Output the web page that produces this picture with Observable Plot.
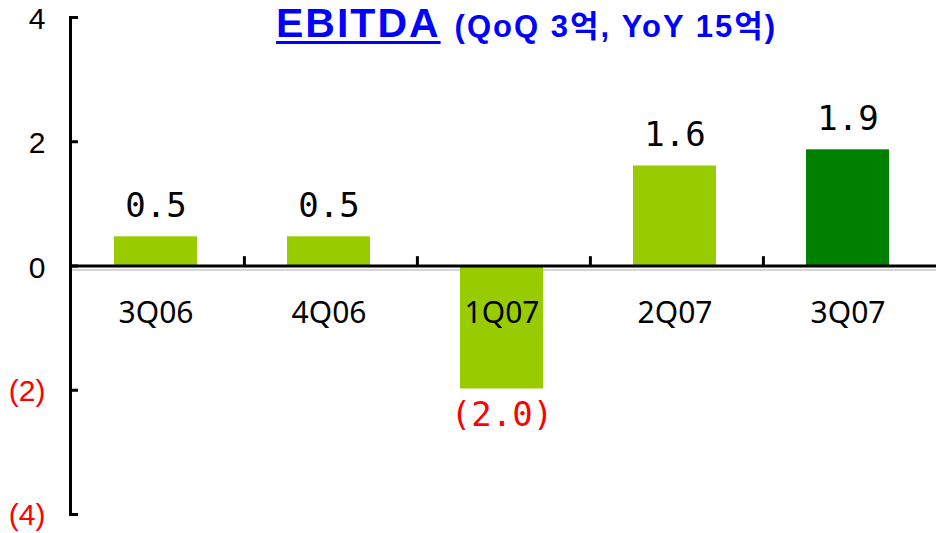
<!DOCTYPE html>
<html>
<head>
<meta charset="utf-8">
<script src="https://cdn.jsdelivr.net/npm/d3@7"></script>
<script src="https://cdn.jsdelivr.net/npm/@observablehq/plot@0.6"></script>
<style>
  html, body { margin: 0; padding: 0; background: #fff; }
  #wrap { position: relative; width: 936px; height: 533px; }
  #title { position: absolute; left: 276px; top: 3px; display: flex; align-items: baseline; color: #0000ff; font-weight: bold; font-family: "Liberation Sans", Arial, "Noto Sans CJK KR", sans-serif; line-height: 1; white-space: nowrap; }
  #title .main { font-size: 41px; letter-spacing: 2px; text-decoration: underline; text-decoration-thickness: 3px; text-underline-offset: 4px; }
  #title .sub { font-size: 31px; margin-left: 14px; letter-spacing: 2px; }
</style>
</head>
<body>
<div id="wrap">
  <div id="chart"></div>
  <div id="title"><span class="main">EBITDA</span><span class="sub">(QoQ 3억, YoY 15억)</span></div>
</div>
<script>
const categories = ["3Q06", "4Q06", "1Q07", "2Q07", "3Q07"];
const values = [0.47, 0.47, -1.98, 1.61, 1.87];
const valueLabels = ["0.5", "0.5", "(2.0)", "1.6", "1.9"];
const highlighted = [false, false, false, false, true];
const yTicks = [-4, -2, 0, 2, 4];

const data = categories.map((c, i) => ({cat: c, value: values[i], label: valueLabels[i], hl: highlighted[i]}));

const W = 936, H = 533, ML = 70, MR = 0, MT = 17, MB = 19;
const bw = (W - ML - MR) / categories.length;
const sans = "'Noto Sans', 'Noto Sans CJK KR', sans-serif";
const tickFont = "'Liberation Sans', Arial, sans-serif";
const mono = "'DejaVu Sans Mono', monospace";

const chart = Plot.plot({
  width: W,
  height: H,
  marginLeft: ML,
  marginRight: MR,
  marginTop: MT,
  marginBottom: MB,
  x: {type: "band", domain: categories, padding: 0, axis: null},
  y: {domain: [-4, 4]},
  style: {background: "transparent", overflow: "visible"},
  marks: [
    Plot.ruleY([0], {stroke: "#c8c8c8", strokeWidth: 1.5, dy: 4}),
    Plot.barY(data, {x: "cat", y: "value", fill: d => d.hl ? "#008000" : "#99cc00", insetLeft: 45, insetRight: 45, dx: -2}),
    Plot.ruleY([0], {stroke: "black", strokeWidth: 3}),
    Plot.ruleX(categories.slice(1), {x: d => d, y1: 0, y2: 0.15, dx: -bw / 2, stroke: "black", strokeWidth: 3}),
    Plot.frame({anchor: "left", stroke: "black", strokeWidth: 3}),
    Plot.axisY({ticks: yTicks, tickSize: 8, dx: 8, tickFormat: () => "", strokeWidth: 3, label: null}),
    Plot.axisY({ticks: yTicks.filter(d => d >= 0), tickSize: 0, tickPadding: 25, dy: 2, tickFormat: d => String(d), fontSize: 30, fontFamily: tickFont, color: "black", label: null}),
    Plot.axisY({ticks: yTicks.filter(d => d < 0), tickSize: 0, tickPadding: 25, dy: 1, tickFormat: d => `(${-d})`, fontSize: 30, fontFamily: tickFont, color: "red", label: null}),
    Plot.text(data, {x: "cat", y: 0, text: "cat", dy: 36, dx: -2, lineAnchor: "top", fontSize: 30, fontFamily: sans, fill: "black"}),
    Plot.text(data.filter(d => d.value >= 0), {x: "cat", y: "value", text: "label", lineAnchor: "bottom", dy: -20, dx: -2, fontSize: 34, fontFamily: mono, fill: "black"}),
    Plot.text(data.filter(d => d.value < 0), {x: "cat", y: "value", text: "label", lineAnchor: "top", dy: 13, dx: -2, fontSize: 34, fontFamily: mono, fill: "red"})
  ]
});
document.getElementById("chart").appendChild(chart);
</script>
</body>
</html>
